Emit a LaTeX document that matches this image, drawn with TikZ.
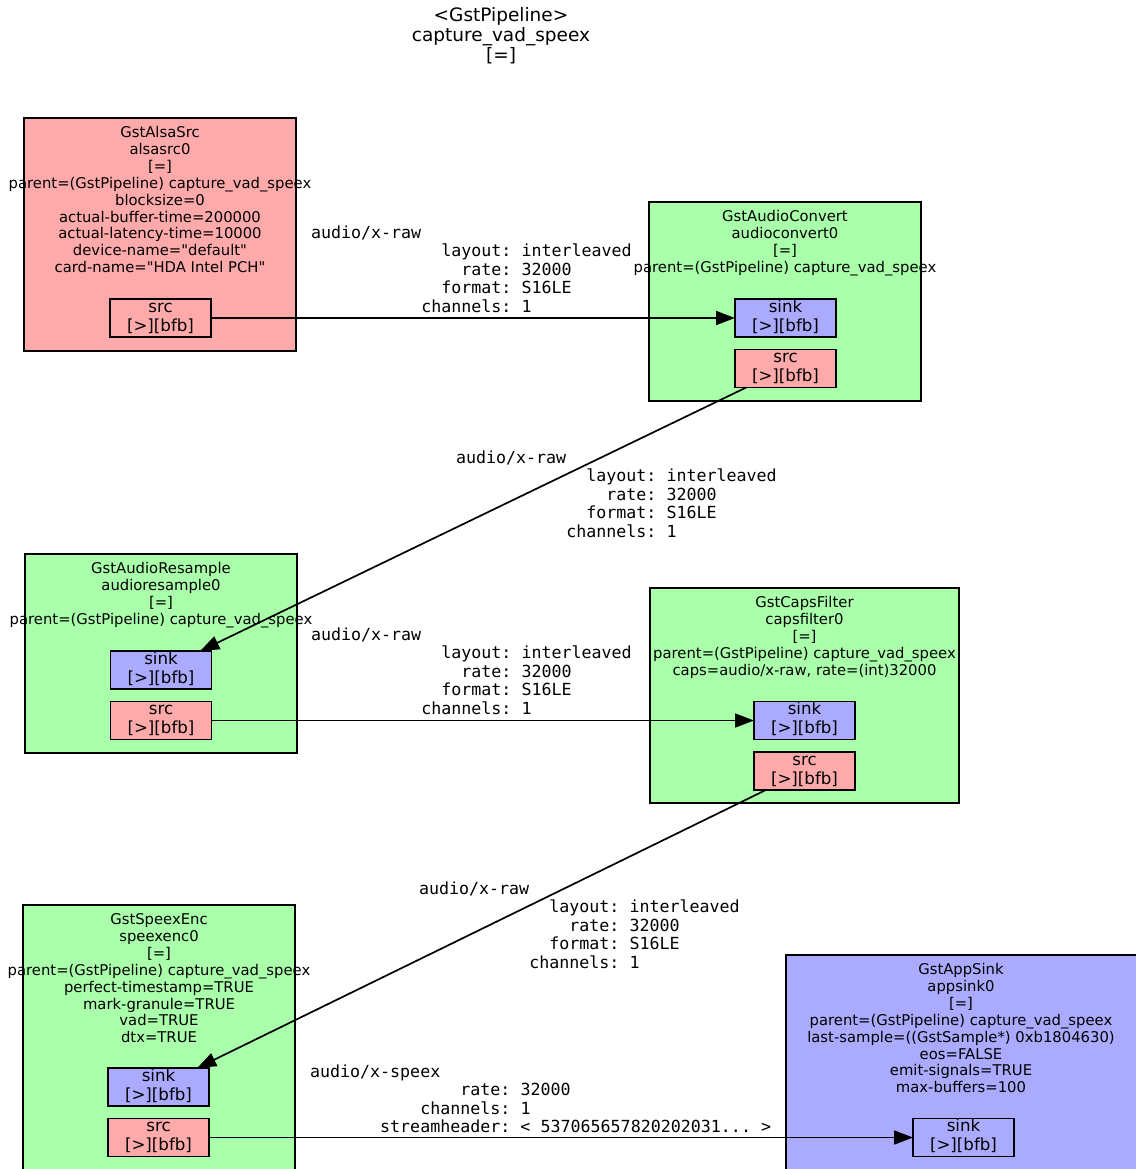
\documentclass[tikz,border=0pt]{standalone}
\usepackage{fontspec}
\setmainfont{DejaVu Sans}[Ligatures=TeXOff]
\newfontfamily\capsmono{DejaVu Sans Mono}
\usetikzlibrary{arrows.meta}

\definecolor{srcfill}{HTML}{FFAAAA}
\definecolor{filterfill}{HTML}{AAFFAA}
\definecolor{sinkfill}{HTML}{AAAAFF}

% stacked, centred lines; the first baseline is the node's base
\newcommand\elemlines[1]{\begin{tabular}[t]{@{}c@{}}#1\end{tabular}}
% two centred lines inside a pad
\newcommand\padlines[1]{\begin{tabular}{@{}c@{}}#1\end{tabular}}
% caps block: left aligned monospace lines
\newcommand\capslines[1]{\begin{tabular}[t]{@{}l@{}}#1\end{tabular}}
% one caps field: name right aligned in 19 columns, then ": value"
\newcommand\capfield[2]{\makebox[\dimexpr19\fontcharwd\font`0\relax][r]{#1}:\ #2}

\tikzset{
  every node/.style={inner sep=0pt, outer sep=0pt},
  element/.style={draw=black, line width=1.8bp, rectangle},
  srcelem/.style={element, fill=srcfill},
  filterelem/.style={element, fill=filterfill},
  sinkelem/.style={element, fill=sinkfill},
  elemlabel/.style={anchor=base, font=\fontsize{14.8bp}{16.9bp}\selectfont},
  padbox/.style={draw=black, line width=1.8bp, rectangle,
    minimum width=101bp, minimum height=38bp,
    font=\fontsize{16.65bp}{19bp}\selectfont},
  srcpad/.style={padbox, fill=srcfill},
  sinkpad/.style={padbox, fill=sinkfill},
  link/.style={line width=1.7bp, -{Triangle[length=19bp, width=14bp]}},
  capslabel/.style={anchor=base west,
    font=\capsmono\fontsize{16.65bp}{18.5bp}\selectfont\frenchspacing},
  pipetitle/.style={anchor=base, font=\fontsize{18.5bp}{20bp}\selectfont},
}

\begin{document}
\begin{tikzpicture}[x=1bp, y=-1bp]
\useasboundingbox (0,0) rectangle (1136,1169);
\clip (0,0) rectangle (1136,1169);

% pipeline title
\node[pipetitle] (pipeline) at (501,21)
  {\elemlines{<GstPipeline>\\capture\_vad\_speex\\{[=]}}};

% element boxes
\node[srcelem, minimum width=272bp, minimum height=233bp] (alsasrc) at (160,234.5) {};
\node[filterelem, minimum width=272bp, minimum height=199bp] (audioconvert) at (785,301.5) {};
\node[filterelem, minimum width=272bp, minimum height=199bp] (audioresample) at (161,653.5) {};
\node[filterelem, minimum width=309bp, minimum height=215bp] (capsfilter) at (804.5,695.5) {};
\node[filterelem, minimum width=272bp, minimum height=270bp] (speexenc) at (159,1040) {};
\node[sinkelem, minimum width=354bp, minimum height=220bp] (appsink) at (963,1065) {};

% element descriptions
\node[elemlabel] (alsasrc-text) at (160,137.5) {\elemlines{GstAlsaSrc\\alsasrc0\\{[=]}\\
  parent=(GstPipeline) capture\_vad\_speex\\blocksize=0\\actual-buffer-time=200000\\
  actual-latency-time=10000\\device-name="default"\\card-name="HDA Intel PCH"}};
\node[elemlabel] (audioconvert-text) at (785,221.5) {\elemlines{GstAudioConvert\\
  audioconvert0\\{[=]}\\parent=(GstPipeline) capture\_vad\_speex}};
\node[elemlabel] (audioresample-text) at (161,573.5) {\elemlines{GstAudioResample\\
  audioresample0\\{[=]}\\parent=(GstPipeline) capture\_vad\_speex}};
\node[elemlabel] (capsfilter-text) at (804.5,607.5) {\elemlines{GstCapsFilter\\
  capsfilter0\\{[=]}\\parent=(GstPipeline) capture\_vad\_speex\\
  caps=audio/x-raw, rate=(int)32000}};
\node[elemlabel] (speexenc-text) at (159,924.5) {\elemlines{GstSpeexEnc\\speexenc0\\{[=]}\\
  parent=(GstPipeline) capture\_vad\_speex\\perfect-timestamp=TRUE\\
  mark-granule=TRUE\\vad=TRUE\\dtx=TRUE}};
\node[elemlabel] (appsink-text) at (961,974.5) {\elemlines{GstAppSink\\appsink0\\{[=]}\\
  parent=(GstPipeline) capture\_vad\_speex\\last-sample=((GstSample*) 0xb1804630)\\
  eos=FALSE\\emit-signals=TRUE\\max-buffers=100}};

% pads
\node[srcpad] (alsasrc-src) at (160.5,318) {\padlines{src\\{[>][bfb]}}};
\node[sinkpad] (audioconvert-sink) at (785.5,318) {\padlines{sink\\{[>][bfb]}}};
\node[srcpad] (audioconvert-src) at (785.5,368.5) {\padlines{src\\{[>][bfb]}}};
\node[sinkpad] (audioresample-sink) at (161,670) {\padlines{sink\\{[>][bfb]}}};
\node[srcpad] (audioresample-src) at (161,720.5) {\padlines{src\\{[>][bfb]}}};
\node[sinkpad] (capsfilter-sink) at (804.5,720.5) {\padlines{sink\\{[>][bfb]}}};
\node[srcpad] (capsfilter-src) at (804.5,771) {\padlines{src\\{[>][bfb]}}};
\node[sinkpad] (speexenc-sink) at (158.5,1087) {\padlines{sink\\{[>][bfb]}}};
\node[srcpad] (speexenc-src) at (158.5,1137.5) {\padlines{src\\{[>][bfb]}}};
\node[sinkpad] (appsink-sink) at (963.5,1137.5) {\padlines{sink\\{[>][bfb]}}};

% links between pads
\draw[link] (alsasrc-src) -- (audioconvert-sink);
\draw[link] (audioconvert-src) -- (audioresample-sink);
\draw[link] (audioresample-src) -- (capsfilter-sink);
\draw[link] (capsfilter-src) -- (speexenc-sink);
\draw[link] (speexenc-src) -- (appsink-sink);

% negotiated caps on each link
\node[capslabel] (caps-a) at (311,238) {\capslines{audio/x-raw\\
  \capfield{layout}{interleaved}\\\capfield{rate}{32000}\\
  \capfield{format}{S16LE}\\\capfield{channels}{1}}};
\node[capslabel] (caps-b) at (456,463) {\capslines{audio/x-raw\\
  \capfield{layout}{interleaved}\\\capfield{rate}{32000}\\
  \capfield{format}{S16LE}\\\capfield{channels}{1}}};
\node[capslabel] (caps-c) at (311,640) {\capslines{audio/x-raw\\
  \capfield{layout}{interleaved}\\\capfield{rate}{32000}\\
  \capfield{format}{S16LE}\\\capfield{channels}{1}}};
\node[capslabel] (caps-d) at (419,894) {\capslines{audio/x-raw\\
  \capfield{layout}{interleaved}\\\capfield{rate}{32000}\\
  \capfield{format}{S16LE}\\\capfield{channels}{1}}};
\node[capslabel] (caps-e) at (310,1077) {\capslines{audio/x-speex\\
  \capfield{rate}{32000}\\\capfield{channels}{1}\\
  \capfield{streamheader}{< 537065657820202031... >}}};
\end{tikzpicture}
\end{document}
